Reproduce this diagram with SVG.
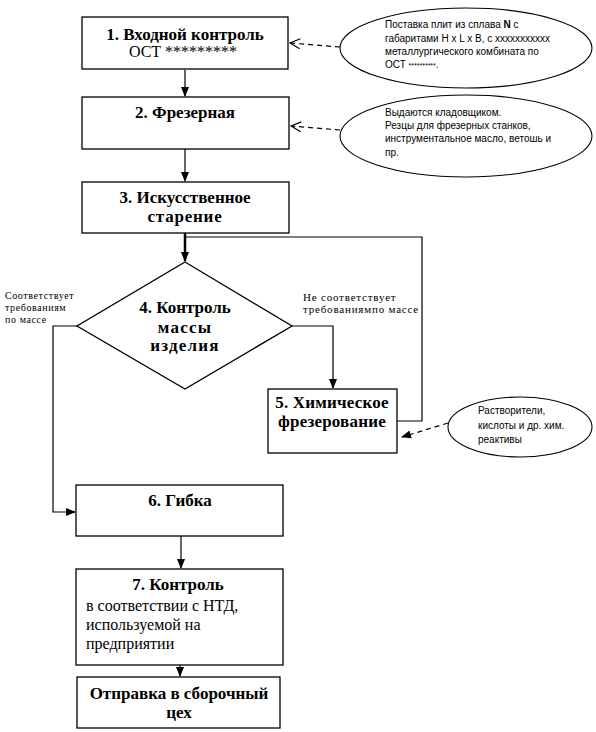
<svg xmlns="http://www.w3.org/2000/svg" width="596" height="732" viewBox="0 0 596 732">
<style>
.box{fill:#fff;stroke:#000;stroke-width:1.3}
.ell{fill:#fff;stroke:#000;stroke-width:1.1}
.b{font-weight:bold;font-size:17px}
.r{font-size:16px}
.s{font-size:10px}
.sm{font-size:10px;letter-spacing:0.6px}
.sm2{font-size:11px;letter-spacing:0.8px}
.ln{fill:none;stroke:#000;stroke-width:1.2}
.dash{fill:none;stroke:#000;stroke-width:1.2;stroke-dasharray:5,4}
</style>
<defs>
<marker id="ah" markerWidth="10" markerHeight="10" refX="9" refY="5" orient="auto" markerUnits="userSpaceOnUse">
<path d="M0,1 L10,5 L0,9 Z" fill="#000"/>
</marker>
<marker id="open" markerWidth="12" markerHeight="12" refX="11" refY="6" orient="auto" markerUnits="userSpaceOnUse">
<path d="M1,1 L11,6 L1,11" fill="none" stroke="#000" stroke-width="1.2"/>
</marker>
</defs>
<rect width="596" height="732" fill="#fff"/>

<g id="connectors">
<line class="ln" x1="185" y1="70" x2="185" y2="96" marker-end="url(#ah)"/>
<line class="ln" x1="185" y1="149" x2="185" y2="181" marker-end="url(#ah)"/>
<line x1="185" y1="233" x2="185" y2="261" stroke="#000" stroke-width="2.5" marker-end="url(#ah)"/>
<polyline class="ln" points="397,421 422,421 422,237 185,237"/>
<polyline class="ln" points="292,326 333,326 333,388" marker-end="url(#ah)"/>
<polyline class="ln" points="77,326 53,326 53,512 75,512" marker-end="url(#ah)"/>
<line class="ln" x1="181" y1="536" x2="181" y2="568" marker-end="url(#ah)"/>
<line class="ln" x1="180" y1="665" x2="180" y2="676" marker-end="url(#ah)"/>
<line class="dash" x1="340" y1="47" x2="290" y2="43" marker-end="url(#open)"/>
<line class="dash" x1="340" y1="130" x2="291" y2="126" marker-end="url(#open)"/>
<line class="dash" x1="448" y1="423" x2="402" y2="437" marker-end="url(#ah)"/>
</g>

<g font-family="Liberation Sans, Arial, sans-serif" fill="#000">
<g id="e1">
<ellipse class="ell" cx="466" cy="48" rx="126" ry="40"/>
<text class="s" x="385" y="28">Поставка плит из сплава <tspan font-weight="bold">N</tspan>  с</text>
<text class="s" x="385" y="42">габаритами H x L x B, с xxxxxxxxxxx</text>
<text class="s" x="385" y="55">металлургического комбината по</text>
<text class="s" x="385" y="68">ОСТ <tspan font-size="7">**********</tspan>.</text>
</g>
<g id="e2">
<ellipse class="ell" cx="466" cy="136" rx="126" ry="41"/>
<text class="s" x="385" y="116">Выдаются  кладовщиком.</text>
<text class="s" x="385" y="129">Резцы для  фрезерных станков,</text>
<text class="s" x="385" y="142">инструментальное масло, ветошь и</text>
<text class="s" x="385" y="156">пр.</text>
</g>
<g id="e3">
<ellipse class="ell" cx="520" cy="427" rx="72" ry="30"/>
<text class="s" x="478" y="414">Растворители,</text>
<text class="s" x="478" y="429">кислоты и др. хим.</text>
<text class="s" x="478" y="443">реактивы</text>
</g>
</g>

<g font-family="Liberation Serif, serif" fill="#000">
<g id="n1">
<rect class="box" x="82" y="17" width="206" height="52"/>
<text class="b" x="185" y="40" text-anchor="middle">1. Входной контроль</text>
<text class="r" x="183" y="57" text-anchor="middle">ОСТ *********</text>
</g>
<g id="n2">
<rect class="box" x="82" y="97" width="207" height="52"/>
<text class="b" x="185" y="118" text-anchor="middle">2. Фрезерная</text>
</g>
<g id="n3">
<rect class="box" x="82" y="182" width="207" height="51"/>
<text class="b" x="185" y="203" text-anchor="middle">3. Искусственное</text>
<text class="b" x="185" y="222" text-anchor="middle" letter-spacing="0.8">старение</text>
</g>
<g id="n4">
<polygon class="box" points="185,262 292,326 185,389 77,326"/>
<text class="b" x="185" y="313" text-anchor="middle">4. Контроль</text>
<text class="b" x="185" y="333" text-anchor="middle" letter-spacing="1.2">массы</text>
<text class="b" x="185" y="351" text-anchor="middle" letter-spacing="1.2">изделия</text>
</g>
<g id="lbl">
<text class="sm" x="5" y="299">Соответствует</text>
<text class="sm" x="5" y="311">требованиям</text>
<text class="sm" x="5" y="323">по массе</text>
<text class="sm2" x="303" y="301">Не соответствует</text>
<text class="sm2" x="303" y="313">требованиямпо массе</text>
</g>
<g id="n5">
<rect class="box" x="268" y="389" width="129" height="64"/>
<text class="b" x="332" y="408" text-anchor="middle" font-size="15" letter-spacing="0.2">5. Химическое</text>
<text class="b" x="332" y="427" text-anchor="middle" font-size="15" letter-spacing="0.2">фрезерование</text>
</g>
<g id="n6">
<rect class="box" x="76" y="485" width="207" height="51"/>
<text class="b" x="180" y="506" text-anchor="middle">6. Гибка</text>
</g>
<g id="n7">
<rect class="box" x="76" y="569" width="207" height="96"/>
<text class="b" x="178" y="590" text-anchor="middle">7. Контроль</text>
<text class="r" x="86" y="611">в соответствии с НТД,</text>
<text class="r" x="86" y="630">используемой на</text>
<text class="r" x="86" y="649">предприятии</text>
</g>
<g id="n8">
<rect class="box" x="77" y="677" width="203" height="51"/>
<text class="b" x="179" y="699" text-anchor="middle">Отправка в сборочный</text>
<text class="b" x="179" y="718" text-anchor="middle">цех</text>
</g>
</g>
</svg>
